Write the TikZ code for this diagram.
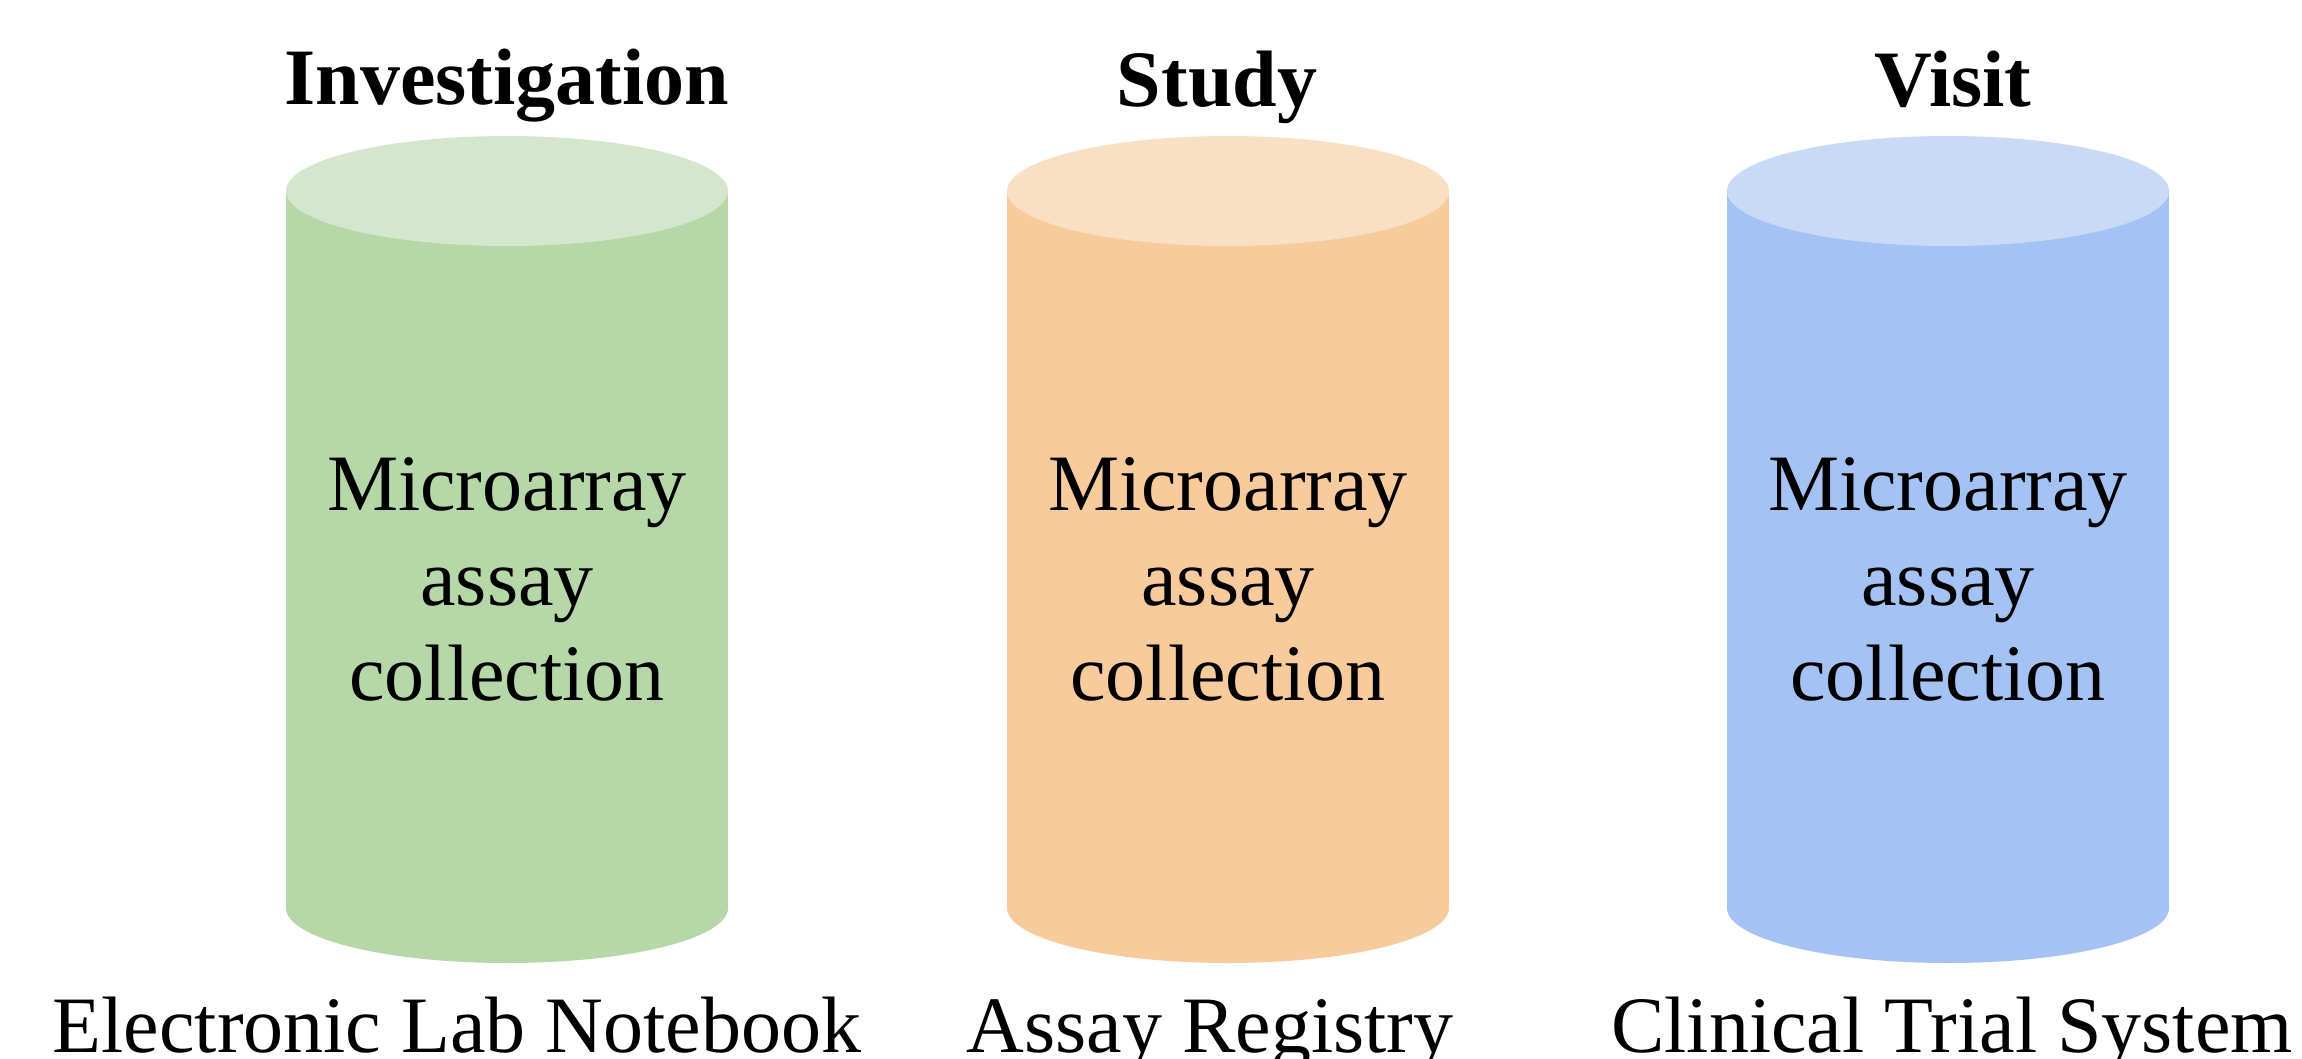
\documentclass[tikz,border=0pt]{standalone}
\usepackage{fontspec}
\setmainfont{Liberation Serif}
\definecolor{gbody}{HTML}{B6D7A8}
\definecolor{gtop}{HTML}{D4E7CD}
\definecolor{obody}{HTML}{F8CB9C}
\definecolor{otop}{HTML}{F9DFC4}
\definecolor{bbody}{HTML}{A4C2F3}
\definecolor{btop}{HTML}{C9DAF7}
\tikzset{
  title/.style={anchor=base, inner sep=0pt, font=\fontsize{40}{47.5}\selectfont\bfseries},
  inner/.style={anchor=center, inner sep=0pt, align=center, font=\fontsize{40}{47.5}\selectfont},
  label/.style={anchor=base, inner sep=0pt, font=\fontsize{40}{47.5}\selectfont},
}
\begin{document}
\begin{tikzpicture}[x=0.5pt,y=-0.5pt]
\useasboundingbox (0,0) rectangle (2302,1059);
\fill[white] (0,0) rectangle (2302,1059);
% cylinders
\foreach \cx/\bc/\tc in {507/gbody/gtop,1228/obody/otop,1948/bbody/btop}{
  \fill[\bc] (\cx-221,191) rectangle (\cx+221,908);
  \fill[\bc] (\cx,908) ellipse [x radius=110.5pt, y radius=27.5pt];
  \fill[\tc] (\cx,191) ellipse [x radius=110.5pt, y radius=27.5pt];
}
% titles
\node[title] (t1) at (507,105) {Investigation};
\node[title] (t2) at (1217,107) {Study};
\node[title] (t3) at (1953,107) {Visit};
% cylinder texts
\node[inner] (c1) at (507,579) {Microarray\\assay\\collection};
\node[inner] (c2) at (1228,579) {Microarray\\assay\\collection};
\node[inner] (c3) at (1948,579) {Microarray\\assay\\collection};
% bottom labels
\node[label] (l1) at (457,1052) {Electronic Lab Notebook};
\node[label] (l2) at (1210,1052) {Assay Registry};
\node[label] (l3) at (1952,1052) {Clinical Trial System};
\end{tikzpicture}
\end{document}
